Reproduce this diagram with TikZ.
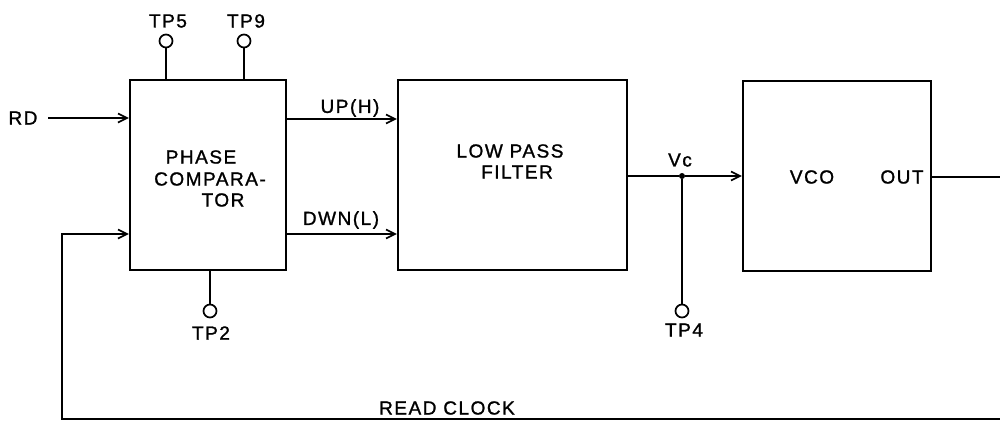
\documentclass[tikz,border=0pt]{standalone}
\usepackage{fontspec}
\setmainfont{Liberation Sans}[LetterSpace=8,FakeBold=1.2]
\usetikzlibrary{arrows.meta}
\begin{document}
\begin{tikzpicture}[x=1pt,y=-1pt,
  ln/.style={line width=2.2pt},
  arr/.style={ln,-{Straight Barb[length=9pt,width=9pt,line width=1.7pt]}},
  blk/.style={draw,ln,inner sep=0pt,minimum height=190pt},
  tp/.style={circle,draw,line width=1.7pt,minimum size=13pt,inner sep=0pt},
  lbl/.style={inner sep=0pt,font=\fontsize{19}{22}\selectfont}]
\useasboundingbox (0,0) rectangle (1000,421);
% blocks
\node[blk,minimum width=156pt] (pc) at (208,175) {};
\node[blk,minimum width=229pt] (lpf) at (512.5,175) {};
\node[blk,minimum width=188pt] (vco) at (837,176) {};
% block texts
\node[lbl] (t1) at (201,157) {PHASE};
\node[lbl] (t2) at (210,179) {COMPARA-};
\node[lbl] (t3) at (223,200) {TOR};
\node[lbl] (t4) at (510,151) {LOW PASS};
\node[lbl] (t5) at (517,172) {FILTER};
\node[lbl] (t6) at (812,177) {VCO};
\node[lbl] (t7) at (902,177) {OUT};
% signal labels
\node[lbl] (rd) at (23,118) {RD};
\node[lbl] (up) at (350,108) {UP(H)};
\node[lbl] (dn) at (341,220) {DWN(L)};
\node[lbl] (vc) at (680,160) {Vc};
\node[lbl] (rc) at (447,408) {READ CLOCK};
% test points
\node[tp] (c5) at (166,41) {};
\node[tp] (c9) at (244,41) {};
\node[tp] (c2) at (210,311) {};
\node[tp] (c4) at (682,311) {};
\node[lbl] (l5) at (168,21) {TP5};
\node[lbl] (l9) at (246,21) {TP9};
\node[lbl] (l2) at (211,333) {TP2};
\node[lbl] (l4) at (684,330) {TP4};
\draw[ln] (c5.south) -- (c5.south |- pc.north);
\draw[ln] (c9.south) -- (c9.south |- pc.north);
\draw[ln] (c2.north) -- (c2.north |- pc.south);
% coordinates
\coordinate (upy) at (0,119);
\coordinate (dny) at (0,234);
\coordinate (rdin) at (48,118);
\node[circle,fill,inner sep=0pt,minimum size=6pt] (vcdot) at (682,176) {};
\coordinate (rt) at (1000,177);
\coordinate (br) at (1000,419);
\coordinate (bl) at (62,419);
% connectors
\draw[arr] (rdin) -- (rdin -| pc.west);
\draw[arr] (pc.east |- upy) -- (lpf.west |- upy);
\draw[arr] (pc.east |- dny) -- (lpf.west |- dny);
\draw[ln] (lpf.east |- vcdot) -- (vcdot);
\draw[arr] (vcdot) -- (vco.west |- vcdot);
\draw[ln] (vcdot) -- (c4.north);
\draw[ln] (vco.east |- rt) -- (rt);
\draw[arr] (br) -- (bl) |- (pc.west |- dny);
\end{tikzpicture}
\end{document}
